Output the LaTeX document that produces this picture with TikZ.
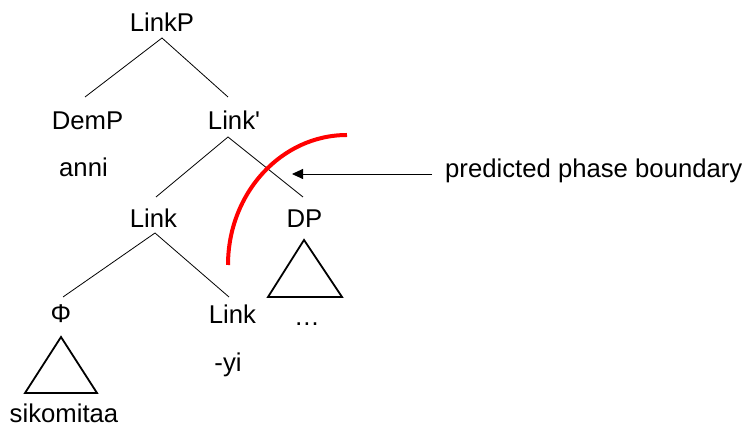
\documentclass[tikz,border=0pt]{standalone}
\usepackage{fontspec}
\setmainfont{Liberation Sans}[Ligatures=TeXOff]
\usetikzlibrary{arrows.meta}
\begin{document}
\begin{tikzpicture}[x=1pt,y=-1pt,
  lbl/.style={anchor=base,inner sep=0pt,font=\fontsize{25.7}{30}\selectfont},
  branch/.style={draw=black,line width=0.8pt},
  tri/.style={draw=black,line width=1.8pt,line join=miter},
  boundary/.style={draw=red,line width=4pt},
  pointer/.style={draw=black,line width=0.9pt,-{Triangle[length=11pt,width=10pt]}}]
\useasboundingbox (0,0) rectangle (745,427);
% labels
\node[lbl] (LinkP) at (162,32) {LinkP};
\node[lbl] (DemP) at (87.5,129.5) {DemP};
\node[lbl] (Linkbar) at (234,129.5) {Link'};
\node[lbl] (anni) at (83.5,177) {anni};
\node[lbl] (Link) at (153.5,228) {Link};
\node[lbl] (DP) at (304.5,228) {DP};
\node[lbl] (Phi) at (61,323) {Φ};
\node[lbl] (LinkH) at (232.5,323.5) {Link};
\node[lbl] (dots) at (307,326) {…};
\node[lbl] (yi) at (228,371.5) {-yi};
\node[lbl] (siko) at (64,423) {sikomitaa};
\node[lbl,anchor=base west] (pb) at (445,177.5) {predicted phase boundary};
% branch points
\coordinate (LinkPtop) at (162,38);
\coordinate (DemPtop) at (85,97);
\coordinate (Linkbartop) at (228,97);
\coordinate (Linkbarbot) at (228,137);
\coordinate (Linktop) at (156,197);
\coordinate (DPtop) at (303,197);
\coordinate (Linkbot) at (155,233);
\coordinate (Phitop) at (63,297);
\coordinate (LinkHtop) at (229,297);
\draw[branch] (DemPtop) -- (LinkPtop) -- (Linkbartop);
\draw[branch] (Linktop) -- (Linkbarbot) -- (DPtop);
\draw[branch] (Phitop) -- (Linkbot) -- (LinkHtop);
% triangles
\draw[tri] (304,240) -- (342,297) -- (268,297) -- cycle;
\draw[tri] (61,337) -- (97,393) -- (25,393) -- cycle;
% phase boundary
\draw[boundary] (347,135) arc[start angle=-90,end angle=-180,x radius=119,y radius=130];
\coordinate (arrtail) at (432,174);
\coordinate (arrtip) at (292,174);
\draw[pointer] (arrtail) -- (arrtip);
\end{tikzpicture}
\end{document}
